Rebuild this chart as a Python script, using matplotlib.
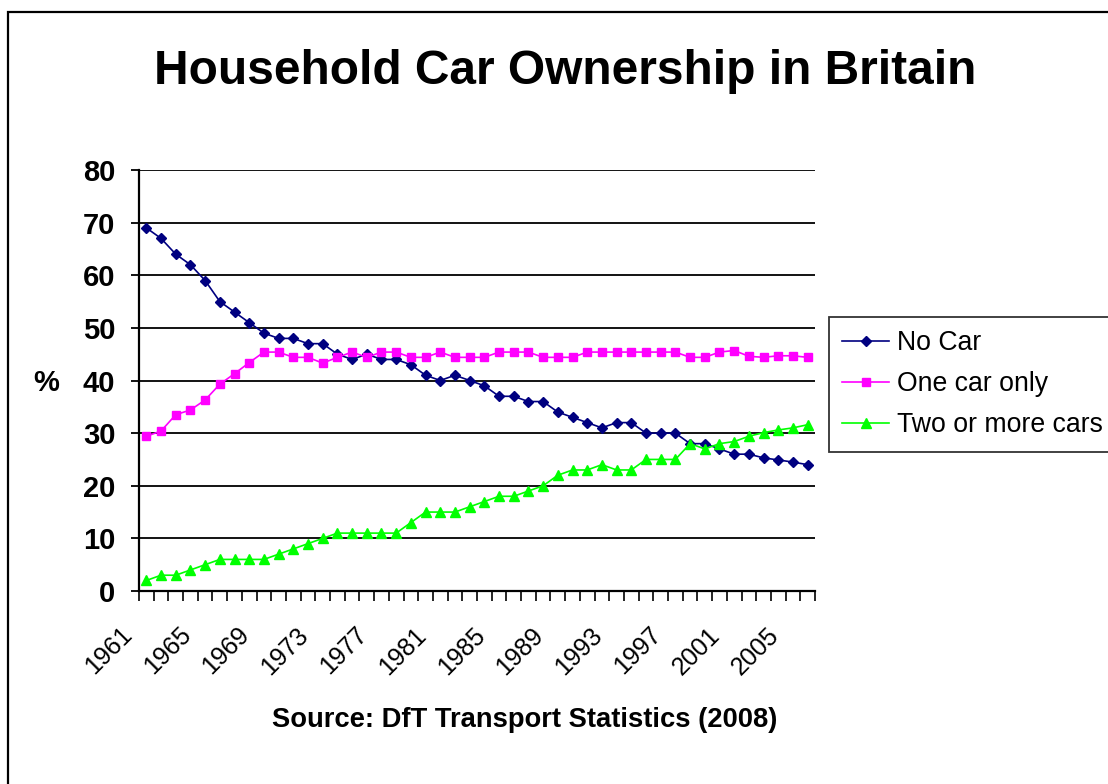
import matplotlib
matplotlib.use("Agg")
import matplotlib.pyplot as plt
from matplotlib.patches import Rectangle
from matplotlib.transforms import ScaledTranslation

plt.rcParams['font.family'] = ['Liberation Sans', 'DejaVu Sans']

years = list(range(1961, 2007))
no_car = [69, 67, 64, 62, 59, 55, 53, 51, 49, 48, 48, 47, 47, 45, 44, 45,
          44, 44, 43, 41, 40, 41, 40, 39, 37, 37, 36, 36, 34, 33, 32, 31,
          32, 32, 30, 30, 30, 28, 28, 27, 26, 26, 25.3, 24.9, 24.5, 24]
one_car = [29.4, 30.4, 33.5, 34.4, 36.3, 39.3, 41.3, 43.4, 45.4, 45.4, 44.4,
           44.4, 43.3, 44.4, 45.4, 44.4, 45.4, 45.4, 44.4, 44.4, 45.4, 44.4,
           44.4, 44.4, 45.4, 45.4, 45.4, 44.4, 44.4, 44.4, 45.4, 45.4, 45.4,
           45.4, 45.4, 45.4, 45.4, 44.4, 44.4, 45.4, 45.7, 44.6, 44.4, 44.7,
           44.7, 44.4]
two_plus = [2, 3, 3, 4, 5, 6, 6, 6, 6, 7, 8, 9, 10, 11, 11, 11, 11, 11, 13,
            15, 15, 15, 16, 17, 18, 18, 19, 20, 22, 23, 23, 24, 23, 23, 25,
            25, 25, 28, 27, 28, 28.4, 29.4, 30.1, 30.6, 31, 31.6]
series_names = ["No Car", "One car only", "Two or more cars"]
yticks = [0, 10, 20, 30, 40, 50, 60, 70, 80]

W, H = 1108, 784
fig = plt.figure(figsize=(W / 100, H / 100), dpi=100)
ax = fig.add_axes([139 / W, 1 - 591 / H, (815 - 139) / W, (591 - 170) / H])

x = list(range(len(years)))
l1, = ax.plot(x, no_car, color='#000080', lw=1.2, marker='D', ms=5.3,
              mec='#000080', mfc='#000080', clip_on=False, zorder=4)
l2, = ax.plot(x, one_car, color='#FF00FF', lw=1.2, marker='s', ms=6.4,
              mec='#FF00FF', mfc='#FF00FF', clip_on=False, zorder=4)
l3, = ax.plot(x, two_plus, color='#00FF00', lw=1.2, marker='^', ms=7.2,
              mec='#00FF00', mfc='#00FF00', clip_on=False, zorder=4)

ax.set_xlim(-0.5, len(years) - 0.5)
ax.set_ylim(0, 80)
ax.set_yticks(yticks)
ax.set_yticklabels([str(v) for v in yticks], fontsize=21, fontweight='bold')
ax.yaxis.grid(True, color='black', lw=1.3)
ax.set_axisbelow(True)
ax.tick_params(axis='y', length=6, width=1.3, pad=11, direction='out')

# category labels every fourth year, boundary ticks between categories
ax.set_xticks(x[::4])
ax.set_xticklabels([str(y) for y in years[::4]], fontsize=18, rotation=45,
                   ha='right', va='center', rotation_mode='anchor')
ax.set_xticks([i - 0.5 for i in range(len(years) + 1)], minor=True)
ax.tick_params(axis='x', which='major', length=0, pad=29)
ax.tick_params(axis='x', which='minor', length=7, width=1.2, direction='out')
shift = ScaledTranslation(-0.18, 0, fig.dpi_scale_trans)
for lab in ax.get_xticklabels():
    lab.set_transform(lab.get_transform() + shift)

for s in ['top', 'right']:
    ax.spines[s].set_visible(False)
for s in ['left', 'bottom']:
    ax.spines[s].set_linewidth(1.6)
    ax.spines[s].set_color('black')

fig.text(565 / W, 1 - 72 / H, "Household Car Ownership in Britain",
         fontsize=34.5, fontweight='bold', ha='center', va='center')
fig.text(46 / W, 1 - 383 / H, "%", fontsize=21, fontweight='bold',
         ha='center', va='center')
fig.text(525 / W, 1 - 720 / H, "Source: DfT Transport Statistics (2008)",
         fontsize=19.7, fontweight='bold', ha='center', va='center')

leg = fig.legend([l1, l2, l3], series_names, loc='upper left',
                 bbox_to_anchor=(829 / W, 1 - 317 / H), fontsize=19.2,
                 frameon=True, fancybox=False, shadow=False,
                 handlelength=1.75, handletextpad=0.3, borderpad=0.5,
                 labelspacing=0.56, markerscale=1.0, borderaxespad=0)
leg.get_frame().set_edgecolor('black')
leg.get_frame().set_linewidth(1.3)

fig.add_artist(Rectangle((8 / W, -0.1), 2, 1.1 - 12 / H,
                         transform=fig.transFigure, fill=False,
                         edgecolor='black', lw=1.6))

fig.savefig("out.png", dpi=100)
